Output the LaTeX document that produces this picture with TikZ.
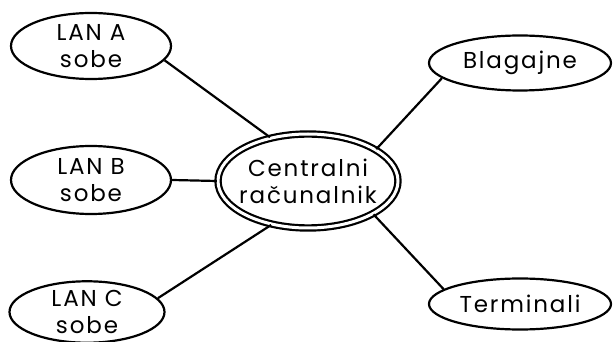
\documentclass[tikz,border=0pt]{standalone}
\usepackage{fontspec}
\setmainfont{Poppins}[LetterSpace=8]
\usetikzlibrary{shapes.geometric}

\begin{document}
\begin{tikzpicture}[x=1pt, y=-1pt,
  every node/.style={font=\fontsize{23}{27}\selectfont},
  lanbox/.style={draw, ellipse, line width=2.2pt, inner sep=0pt, align=center},
  hubbox/.style={lanbox, double, double distance=3pt, inner xsep=-10pt},
  link/.style={line width=2.2pt}]

\useasboundingbox (0,0) rectangle (614,342);

% Central node
\node[hubbox, minimum width=180pt, minimum height=94pt] (hub) at (308,181)
  {Centralni\\računalnik};

% Left side
\node[lanbox, minimum width=160pt, minimum height=66pt] (lanA) at (91,46)
  {LAN A\\sobe};
\node[lanbox, minimum width=160pt, minimum height=68pt] (lanB) at (91,180)
  {LAN B\\sobe};
\node[lanbox, minimum width=155pt, minimum height=58pt] (lanC) at (87,312)
  {LAN C\\sobe};

% Right side
\node[lanbox, minimum width=182pt, minimum height=55pt] (blag) at (520,63)
  {Blagajne};
\node[lanbox, minimum width=182pt, minimum height=51pt] (term) at (520,304)
  {Terminali};

% Links
\draw[link] (lanA.-11) -- (hub.131);
\draw[link] (lanB.east) -- (hub.west);
\draw[link] (lanC.11) -- (hub.230);
\draw[link] (blag.191) -- (hub.25);
\draw[link] (term.169) -- (hub.-27);

\end{tikzpicture}
\end{document}
